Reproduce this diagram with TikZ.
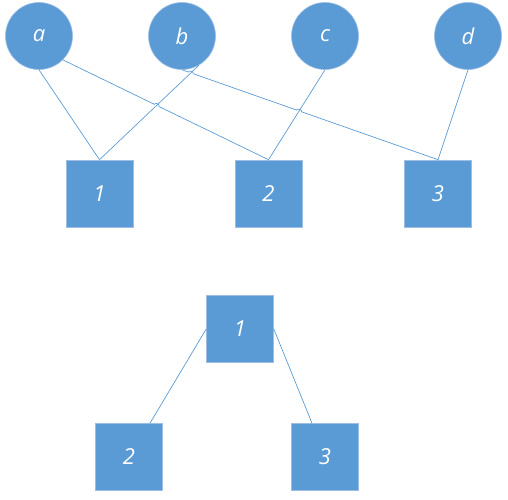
\documentclass[tikz,border=0pt]{standalone}
\usepackage{fontspec}
\setmainfont{Open Sans}
\usetikzlibrary{intersections,calc}
\definecolor{nodeblue}{HTML}{5B9BD5}
\definecolor{edgeblue}{HTML}{9DBDE3}
\begin{document}
\begin{tikzpicture}[x=1pt,y=1pt,
  base/.style={fill=nodeblue,draw=edgeblue,line width=0.6pt,text=white,inner sep=0pt,
    font=\fontsize{22}{24}\selectfont\itshape},
  circ/.style={base,circle,minimum size=67pt},
  sq/.style={base,rectangle,minimum size=67pt},
  conn/.style={draw=nodeblue,line width=0.7pt},
  hop/.style={bend left=90,looseness=1.2}]
\useasboundingbox (0,0) rectangle (508,499);
\node[circ] (a) at (39,463) {a};
\node[circ] (b) at (182,463) {b};
\node[circ] (c) at (325,463) {c};
\node[circ] (d) at (468,463) {d};
\node[sq] (t1) at (99.5,305.5) {1};
\node[sq] (t2) at (268.5,305.5) {2};
\node[sq] (t3) at (438,305.5) {3};
\node[sq] (u1) at (240,170) {1};
\node[sq] (u2) at (129,42) {2};
\node[sq] (u3) at (325,42) {3};
% paths for crossings
\path[name path=pb1] (b.-60) -- (t1.north);
\path[name path=pa2] (a.south east) -- (t2.north);
\path[name path=pb3] (b.south) -- (t3.north);
\path[name path=pc2] (c.south) -- (t2.north);
\path[name intersections={of=pb1 and pa2,by=x1}];
\path[name intersections={of=pb1 and pb3,by=x2}];
\path[name intersections={of=pc2 and pb3,by=x3}];
\draw[conn] (a.south) -- (t1.north);
\draw[conn] (b.-60) -- (t1.north);
\draw[conn] (a.south east) -- ($(x1)!2.5pt!(a.south east)$) to[hop] ($(x1)!2.5pt!(t2.north)$) -- (t2.north);
\draw[conn] (b.south) -- ($(x2)!2.5pt!(b.south)$) to[hop] ($(x2)!2.5pt!(t3.north)$)
  -- ($(x3)!2.5pt!(b.south)$) to[hop] ($(x3)!2.5pt!(t3.north)$) -- (t3.north);
\draw[conn] (c.south) -- (t2.north);
\draw[conn] (d.south) -- (t3.north);
\draw[conn] (u1.west) -- ([xshift=21pt]u2.north);
\draw[conn] (u1.east) -- ([xshift=-13pt]u3.north);
\end{tikzpicture}
\end{document}
